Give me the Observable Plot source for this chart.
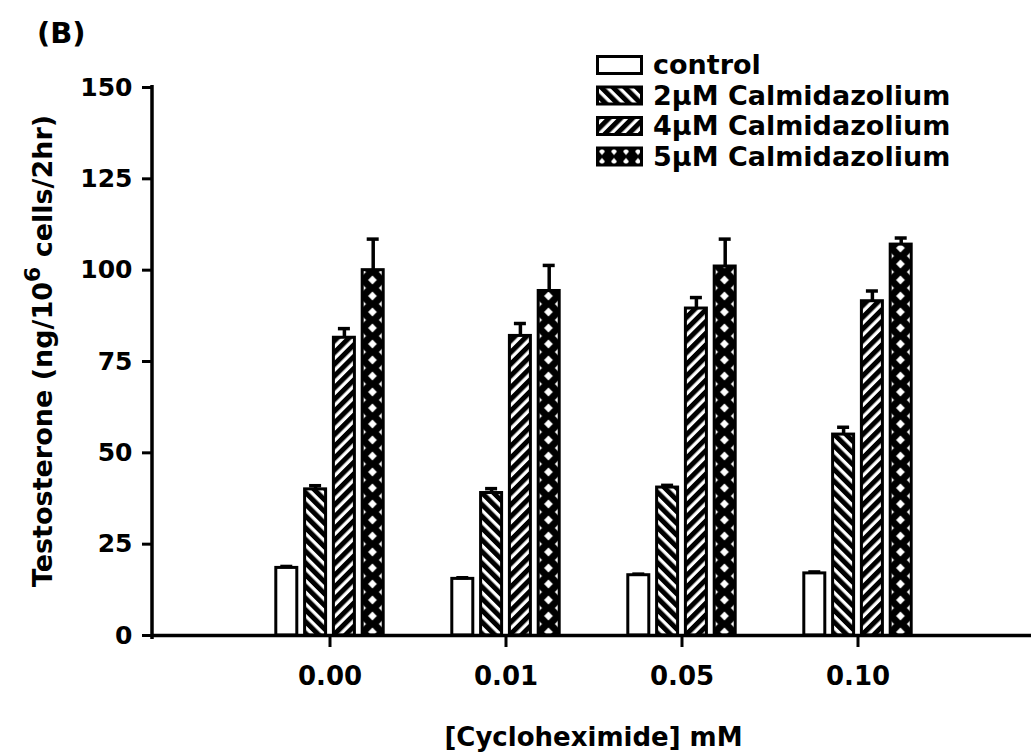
<!DOCTYPE html>
<html>
<head>
<meta charset="utf-8">
<script src="https://cdn.jsdelivr.net/npm/d3@7"></script>
<script src="https://cdn.jsdelivr.net/npm/@observablehq/plot@0.6"></script>
<style>
  body { margin: 0; background: #fff; }
  #chart { position: relative; width: 1031px; height: 755px; }
  #chart svg text { font-family: "DejaVu Sans", sans-serif; font-weight: bold; fill: #000; }
</style>
</head>
<body>
<svg width="0" height="0" style="position:absolute">
  <defs>
    <pattern id="hatch2" patternUnits="userSpaceOnUse" width="8.3" height="8.3" patternTransform="rotate(-45)">
      <rect width="8.3" height="8.3" fill="white"/>
      <rect width="5.0" height="8.3" fill="black"/>
    </pattern>
    <pattern id="hatch4" patternUnits="userSpaceOnUse" width="8.3" height="8.3" patternTransform="rotate(45)">
      <rect width="8.3" height="8.3" fill="white"/>
      <rect width="5.0" height="8.3" fill="black"/>
    </pattern>
    <pattern id="cross5" patternUnits="userSpaceOnUse" width="22.12" height="16">
      <rect width="22.12" height="16" fill="black"/>
      <path d="M11.06,3.4 L15.4,8 L11.06,12.6 L6.72,8 Z" fill="white"/>
      <path d="M0,-4.8 L4.6,0 L0,4.8 L-4.6,0 Z M22.12,-4.8 L26.72,0 L22.12,4.8 L17.52,0 Z M0,11.2 L4.6,16 L0,20.8 L-4.6,16 Z M22.12,11.2 L26.72,16 L22.12,20.8 L17.52,16 Z" fill="white"/>
    </pattern>
    <pattern id="cross5legend" patternUnits="userSpaceOnUse" width="12" height="10">
      <rect width="12" height="10" fill="black"/>
      <path d="M6,1.6 L9,5 L6,8.4 L3,5 Z" fill="white"/>
    </pattern>
  </defs>
</svg>
<div id="chart"></div>
<script>
// ---- data ----
const categories = ["0.00", "0.01", "0.05", "0.10"];
const seriesNames = ["control", "2µM Calmidazolium", "4µM Calmidazolium", "5µM Calmidazolium"];
const controlMean = [18.5, 15.5, 16.5, 17.0];
const controlErr  = [0.4, 0.3, 0.3, 0.4];
const cal2Mean = [40.0, 39.0, 40.5, 55.0];
const cal2Err  = [1.0, 1.2, 0.6, 2.0];
const cal4Mean = [81.5, 82.0, 89.5, 91.5];
const cal4Err  = [2.5, 3.4, 3.0, 2.8];
const cal5Mean = [100.0, 94.3, 101.0, 107.0];
const cal5Err  = [8.5, 7.0, 7.5, 1.8];
const yTicks = [0, 25, 50, 75, 100, 125, 150];
const title = "(B)";
const xTitle = "[Cycloheximide] mM";
const yTitleParts = ["Testosterone (ng/10", "6", " cells/2hr)"];

// ---- styling ----
const fills = ["white", "url(#hatch2)", "url(#hatch4)", "url(#cross5)"];
const legendFills = ["white", "url(#hatch2)", "url(#hatch4)", "url(#cross5legend)"];
const W = 1031, H = 755, mL = 152, mR = 0, mT = 87, mB = 120;
const barSpacing = 28.8;

const means = [controlMean, cal2Mean, cal4Mean, cal5Mean];
const errs = [controlErr, cal2Err, cal4Err, cal5Err];
const seriesRows = seriesNames.map((s, i) =>
  categories.map((c, j) => ({cat: c, series: s, mean: means[i][j], err: errs[i][j]})));

const marks = [];
seriesRows.forEach((rows, i) => {
  const dx = (i - 1.5) * barSpacing;
  marks.push(Plot.barY(rows, {x: "cat", y: "mean", fill: fills[i], stroke: "black", strokeWidth: 3, dx}));
  marks.push(Plot.ruleX(rows, {x: "cat", y1: "mean", y2: d => d.mean + d.err, stroke: "black", strokeWidth: 3.5, dx}));
  marks.push(Plot.tickY(rows, {x: "cat", y: d => d.mean + d.err, stroke: "black", strokeWidth: 3.5, insetLeft: 4.5, insetRight: 4.5, dx}));
});

const chart = Plot.plot({
  width: W, height: H,
  marginTop: mT, marginBottom: mB, marginLeft: mL, marginRight: mR,
  style: {background: "white", color: "black", fontFamily: "DejaVu Sans", fontWeight: "bold"},
  x: {domain: categories, range: [mL, 1035], paddingInner: 0.881, paddingOuter: 0.935, label: null},
  y: {domain: [0, 150], label: null},
  marks: [
    Plot.axisY({ticks: yTicks, tickSize: 10, tickPadding: 10, fontSize: 25, strokeWidth: 3, label: null}),
    Plot.axisX({tickSize: 12, tickPadding: 19, fontSize: 26, strokeWidth: 3, label: null}),
    ...marks,
    Plot.ruleY([0], {stroke: "black", strokeWidth: 3.5})
  ]
});

document.getElementById("chart").appendChild(chart);

// align crosshatch pattern with the bars
const xs = chart.scale("x");
const bandStart = xs.apply(categories[0]);
const leftOf5 = bandStart + 1.5 * barSpacing;
document.getElementById("cross5").setAttribute("x", leftOf5);
document.getElementById("cross5").setAttribute("width", xs.step / 8);

const svg = d3.select(chart);
const yr = chart.scale("y").range; // [bottom, top]

// y axis line
svg.append("line")
  .attr("x1", mL).attr("x2", mL)
  .attr("y1", yr[1] - 2).attr("y2", yr[0] + 4)
  .attr("stroke", "black").attr("stroke-width", 3.5);

// panel label
svg.append("text").attr("x", 37).attr("y", 43).attr("text-anchor", "start")
  .attr("font-size", 29).text(title);

// x title
svg.append("text").attr("x", (mL + W - mR) / 2 + 2).attr("y", 746)
  .attr("text-anchor", "middle").attr("font-size", 26).text(xTitle);

// y title
const yt = svg.append("text")
  .attr("transform", `translate(52, ${(yr[0] + yr[1]) / 2 - 10}) rotate(-90)`)
  .attr("text-anchor", "middle").attr("font-size", 27);
yt.append("tspan").text(yTitleParts[0]);
yt.append("tspan").attr("dy", -12).attr("font-size", 22).text(yTitleParts[1]);
yt.append("tspan").attr("dy", 12).text(yTitleParts[2]);

// legend
const lg = svg.append("g").attr("transform", "translate(596, 55)");
seriesNames.forEach((s, i) => {
  const g = lg.append("g").attr("transform", `translate(0, ${i * 30.5})`);
  g.append("rect").attr("x", 1.5).attr("y", 1.5).attr("width", 44).attr("height", 17)
    .attr("fill", legendFills[i]).attr("stroke", "black").attr("stroke-width", 3);
  g.append("text").attr("x", 57).attr("y", 19).attr("text-anchor", "start")
    .attr("font-size", 27).text(s);
});
</script>
</body>
</html>
